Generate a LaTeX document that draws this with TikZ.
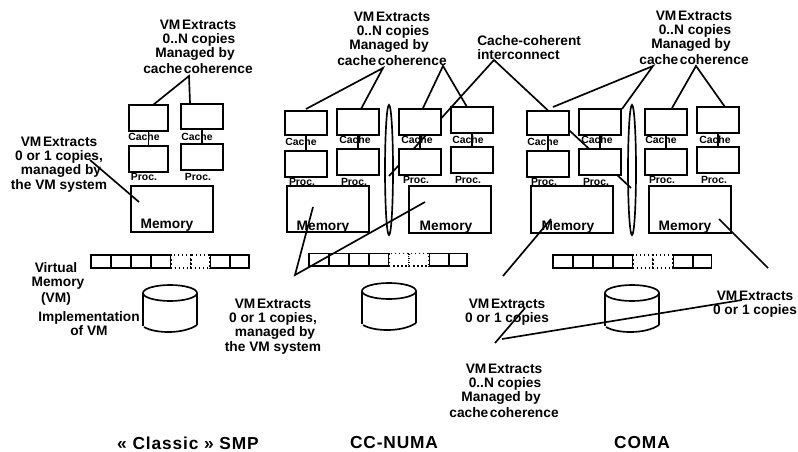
\documentclass[tikz,border=0pt]{standalone}
\usepackage{fontspec}
\setmainfont{Liberation Sans}
\usetikzlibrary{fit,shapes.geometric}
\newcommand{\ns}{\hspace{0.12em}}
\newcommand{\vmn}{VM\ns Extracts\\\hspace*{1.5pt}0..N copies\\\hspace*{-4.5pt}Managed by\\[1.5pt]cache\ns coherence}
\newcommand{\mkbox}[5]{\node[boxst,fit={(#2,#3)(#4,#5)}] (#1) {};}
\newcommand{\cpu}[8]{% id, x1, x2, cache y1, cache y2, proc y1, proc y2, unused
  \mkbox{c#1}{#2}{#4}{#3}{#5}\mkbox{p#1}{#2}{#6}{#3}{#7}\draw[ln] (c#1.south) -- (p#1.north);}
\tikzset{
  ln/.style={line width=1.25pt,black},
  boxst/.style={draw=black,line width=1.25pt,fill=white,inner sep=0pt,rectangle},
  lab/.style={font=\fontsize{10.3}{10.5}\selectfont\bfseries,align=center,inner sep=0pt,text=black},
  small/.style={font=\fontsize{7.8}{8}\selectfont\bfseries,inner sep=0pt,text=black},
  title/.style={font=\fontsize{13}{14}\selectfont\bfseries,inner sep=0pt,text=black},
  ring/.style={draw=black,line width=1.25pt,ellipse,inner sep=0pt,minimum width=6pt,minimum height=97.5pt},
  cell/.style={draw=black,line width=1.25pt,fill=white},
  dcell/.style={draw=black,line width=1.1pt,fill=white,dotted},
}
\begin{document}
\begin{tikzpicture}[x=0.75pt,y=-0.75pt]
\useasboundingbox (0,0) rectangle (798,452);
\fill[white] (0,0) rectangle (798,452);

% interconnect, running behind the boxes
\node[lab,align=left,anchor=west] (cci) at (477,48) {Cache-coherent\\interconnect};
\coordinate (hubI) at (494,60);
\node[ring] (ringL) at (389,170) {};
\node[ring] (ringR) at (632,170) {};
\coordinate (endL) at (389,176);
\coordinate (endR) at (631,188);
\draw[ln] (endL) -- (hubI) -- (endR);

% SMP
\cpu{a}{129}{168}{105}{131}{146}{172}{}
\cpu{b}{181}{223}{104}{129}{144}{170}{}
\mkbox{ma}{131}{186}{213}{232}
% CC-NUMA
\cpu{c}{285}{327}{111}{135}{151}{177}{}
\cpu{d}{337}{379}{109}{135}{149}{175}{}
\cpu{e}{399}{441}{109}{135}{149}{175}{}
\cpu{f}{451}{493}{107}{133}{147}{173}{}
\mkbox{mb}{287}{186}{369}{232}
\mkbox{mc}{409}{186}{491}{233}
% COMA
\cpu{g}{527}{569}{111}{135}{151}{177}{}
\cpu{h}{579}{621}{109}{135}{149}{175}{}
\cpu{i}{645}{687}{109}{135}{149}{175}{}
\cpu{j}{697}{739}{107}{133}{147}{173}{}
\mkbox{md}{531}{186}{613}{233}
\mkbox{me}{649}{186}{731}{233}

% small labels
\foreach \x/\y in {144/137,197/137,301/142,355/140,417/140,468/140,543/142,597/140,661/140,715/140}
  \node[small] at (\x,\y) {Cache};
\foreach \x/\y in {144/177,198/177,302/182,354/182,416/180,468/180,544/182,596/182,662/180,714/180}
  \node[small] at (\x,\y) {Proc.};
\foreach \n/\x/\y in {ma/167/225,mb/323/227,mc/446/227,md/568/227,me/685/227}
  \node[lab] (t\n) at (\x,\y) {Memory};

% virtual memory bars
\foreach \xa/\xb in {91/111,111/131,131/151,151/171,210/230,230/249}
  \draw[cell] (\xa,255) rectangle (\xb,268);
\foreach \xa/\xb in {171/191,191/210}
  \draw[dcell] (\xa,255) rectangle (\xb,268);
\foreach \xa/\xb in {309/329,329/349,349/369,369/389,429/449,449/467}
  \draw[cell] (\xa,253.5) rectangle (\xb,266);
\foreach \xa/\xb in {389/409,409/429}
  \draw[dcell] (\xa,253.5) rectangle (\xb,266);
\foreach \xa/\xb in {553/573,573/593,593/613,613/633,673/693,693/711.5}
  \draw[cell] (\xa,255) rectangle (\xb,268);
\foreach \xa/\xb in {633/653,653/673}
  \draw[dcell] (\xa,255) rectangle (\xb,268);

% disks
\foreach \cx/\ty in {170/293,389/291,632/293}{
  \draw[ln] (\cx,\ty) ellipse [x radius=27,y radius=8];
  \draw[ln] (\cx-27,\ty) -- (\cx-27,\ty+33);
  \draw[ln] (\cx+27,\ty) -- (\cx+27,\ty+32);
  \draw[ln] (\cx-26,\ty+34) .. controls (\cx-14,\ty+41) and (\cx+14,\ty+41) .. (\cx+27,\ty+32);
}

% callouts
\node[lab] (vmA) at (198,47) {\vmn};
\node[lab] (vmB) at (392,39) {\vmn};
\node[lab] (vmC) at (694,38) {\vmn};
\node[lab] (vmD) at (504,391) {\vmn};
\node[lab] (oneA) at (59,165) {VM\ns Extracts\\0 or 1 copies,\\\hspace*{3pt}managed by\\[1pt]the VM system};
\node[lab] (oneB) at (273,327) {VM\ns Extracts\\0 or 1 copies,\\\hspace*{3pt}managed by\\[1pt]the VM system};
\node[lab] (oneC) at (507,312) {VM\ns Extracts\\0 or 1 copies};
\node[lab] (oneD) at (755,304) {VM\ns Extracts\\0 or 1 copies};
\node[lab] (virt) at (56,284) {Virtual\\\hspace*{3pt}Memory\\[1.5pt](VM)};
\node[lab] (impl) at (89,324) {Implementation\\of VM};

\coordinate (h1) at (189,76);
\draw[ln] (153,105) -- (h1) -- (190,103);
\coordinate (h2) at (383,68);
\draw[ln] (306,109) -- (h2) -- (361,109);
\coordinate (h3) at (443,66);
\draw[ln] (423,108) -- (h3) -- (467,107);
\coordinate (h4) at (653,66);
\draw[ln] (553,107) -- (h4) -- (622,109);
\coordinate (h5) at (696,66);
\draw[ln] (672,108) -- (h5) -- (725,107);

\coordinate (q1) at (90,160);
\coordinate (q1m) at (139,202);
\draw[ln] (q1) -- (q1m);
\coordinate (q2) at (295,275);
\draw[ln] (313,207) -- (q2) -- (425,202);
\coordinate (q3a) at (551,219);
\coordinate (q3b) at (503,276);
\draw[ln] (q3a) -- (q3b);
\coordinate (q4a) at (719,219);
\coordinate (q4b) at (768,268);
\draw[ln] (q4a) -- (q4b);
\coordinate (q5a) at (525,308);
\coordinate (q5b) at (495,343);
\draw[ln] (q5a) -- (q5b);
\coordinate (q6a) at (742,300);
\coordinate (q6b) at (502,339);
\draw[ln] (q6a) -- (q6b);

% captions
\node[title] (capA) at (188,443) {\addfontfeature{LetterSpace=5}« Classic » SMP};
\node[title] (capB) at (394,443) {\addfontfeature{LetterSpace=5}CC-NUMA};
\node[title] (capC) at (642,443) {\addfontfeature{LetterSpace=5}COMA};
\end{tikzpicture}
\end{document}
